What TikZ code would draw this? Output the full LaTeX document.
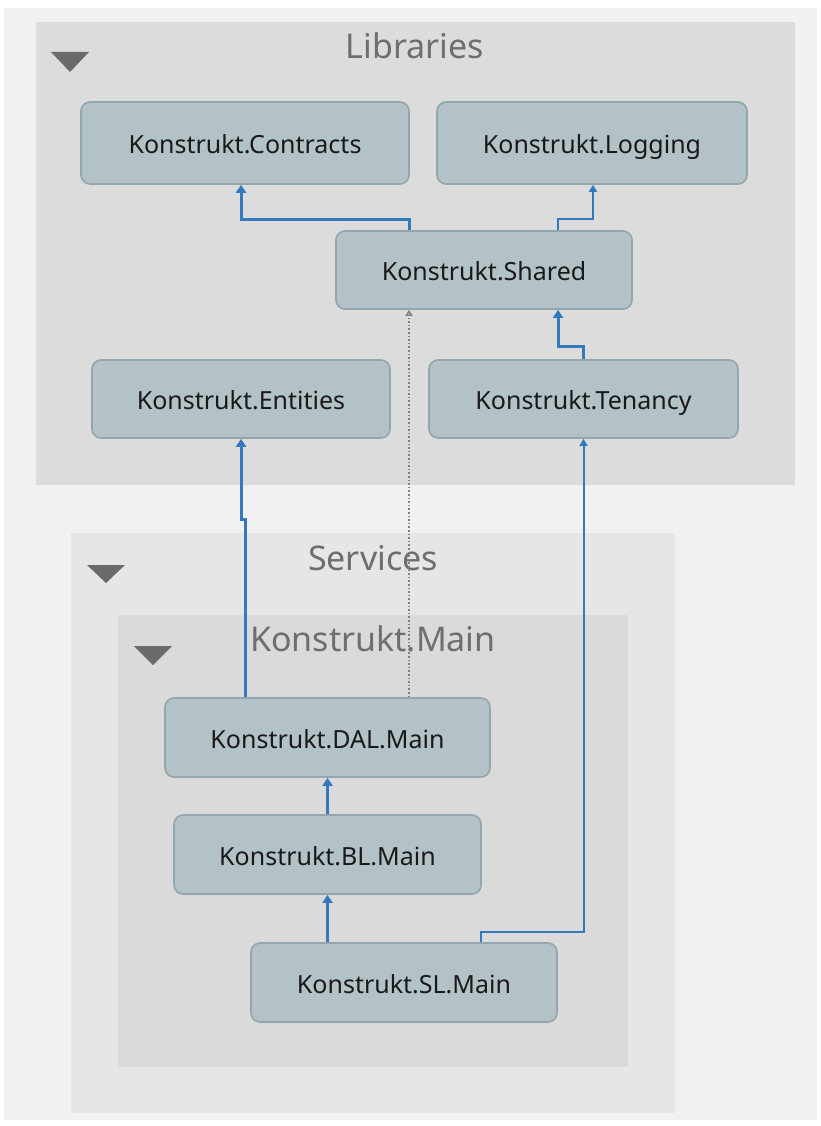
\documentclass[tikz,border=0pt]{standalone}
\usepackage{fontspec}
\setmainfont{Noto Sans}
\usetikzlibrary{arrows.meta}
\definecolor{bgc}{HTML}{F1F1F1}
\definecolor{libc}{HTML}{DCDCDC}
\definecolor{svcc}{HTML}{E6E6E6}
\definecolor{mainc}{HTML}{DADADA}
\definecolor{nodefill}{HTML}{B3C2C7}
\definecolor{nodeline}{HTML}{93A6AD}
\definecolor{titlec}{HTML}{6E6E6E}
\definecolor{tric}{HTML}{6A6A6A}
\definecolor{linkc}{HTML}{3579BD}
\definecolor{dotc}{HTML}{808080}
\tikzset{
  proj/.style={draw=nodeline, line width=1.6pt, fill=nodefill, rounded corners=9pt,
    font=\fontsize{25}{28}\selectfont, text=black!90, inner sep=0pt,
    text height=22pt, text depth=1pt},
  grp/.style={draw=none, inner sep=0pt, anchor=north west},
  gtitle/.style={font=\fontsize{34}{38}\selectfont, text=titlec, inner sep=0pt,
    text height=28pt, text depth=4pt},
  tri/.style={fill=tric, draw=none},
  thickdep/.style={draw=linkc, line width=3pt, -{Triangle[length=8pt,width=10pt]}},
  thindep/.style={draw=linkc, line width=2pt, -{Triangle[length=7pt,width=8pt]}},
  dotdep/.style={draw=dotc, line width=1.6pt, dotted, -{Triangle[open,length=6pt,width=7pt]}},
}
\begin{document}
\begin{tikzpicture}[x=1pt,y=-1pt]
\fill[white] (0,0) rectangle (821,1126);
\fill[bgc] (4,8) rectangle (817,1120);
\useasboundingbox (0,0) rectangle (821,1126);
% groups
\node[grp, fill=libc, minimum width=759pt, minimum height=463pt] (libs) at (36,22) {};
\node[grp, fill=svcc, minimum width=604pt, minimum height=580pt] (svcs) at (71,533) {};
\node[grp, fill=mainc, minimum width=510pt, minimum height=452pt] (maing) at (118,615) {};
\node[gtitle] (tlibs) at (415,47) {Libraries};
\node[gtitle] (tsvcs) at (373,558) {Services};
\node[gtitle] (tmain) at (373,639) {Konstrukt.Main};
\fill[tri] (51,52) -- (89,52) -- (70,72) -- cycle;
\fill[tri] (87,565) -- (125,565) -- (106,583) -- cycle;
\fill[tri] (134,646) -- (172,646) -- (153,665) -- cycle;
% projects
\node[proj, minimum width=328pt, minimum height=82pt] (contracts) at (245,143) {Konstrukt.Contracts};
\node[proj, minimum width=310pt, minimum height=82pt] (logging) at (592,143) {Konstrukt.Logging};
\node[proj, minimum width=296pt, minimum height=78pt] (shared) at (484,270) {Konstrukt.Shared};
\node[proj, minimum width=298pt, minimum height=78pt] (entities) at (241,399) {Konstrukt.Entities};
\node[proj, minimum width=309pt, minimum height=78pt] (tenancy) at (583.5,399) {Konstrukt.Tenancy};
\node[proj, minimum width=325pt, minimum height=79pt] (dal) at (327.5,737.5) {Konstrukt.DAL.Main};
\node[proj, minimum width=307pt, minimum height=79pt] (bl) at (327.5,854.5) {Konstrukt.BL.Main};
\node[proj, minimum width=306pt, minimum height=79pt] (sl) at (404,982.5) {Konstrukt.SL.Main};
% connectors
\draw[thickdep] ([xshift=-75pt]shared.north) -- ++(0,-11) -| ([xshift=-4pt]contracts.south);
\draw[thindep] ([xshift=74pt]shared.north) -- ++(0,-11) -| ([xshift=1pt]logging.south);
\draw[thickdep] (tenancy.north) -- ++(0,-13) -| ([xshift=74pt]shared.south);
\draw[thickdep] ([xshift=-82.5pt]dal.north) -- ++(0,-178) -- ++(-4,0) -- (entities.south);
\draw[dotdep] ([xshift=81.5pt]dal.north) -- ([xshift=-75pt]shared.south);
\draw[thindep] ([xshift=77pt]sl.north) -- ++(0,-10) -| (tenancy.south);
\draw[thickdep] (bl.north) -- (dal.south);
\draw[thickdep] ([xshift=-76.5pt]sl.north) -- (bl.south);
\end{tikzpicture}
\end{document}
